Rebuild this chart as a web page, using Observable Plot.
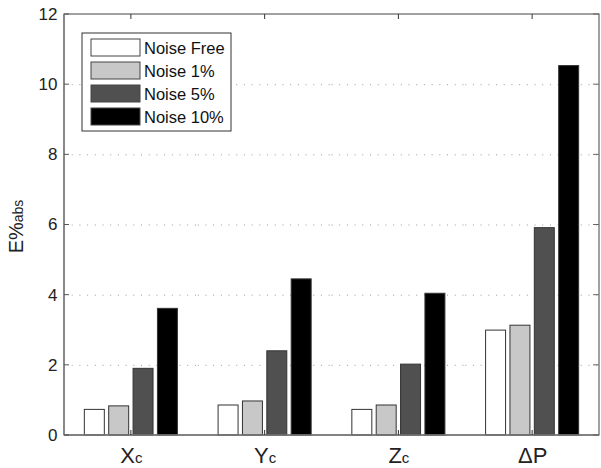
<!DOCTYPE html>
<html><head><meta charset="utf-8">
<script src="https://cdn.jsdelivr.net/npm/d3@7"></script>
<script src="https://cdn.jsdelivr.net/npm/@observablehq/plot@0.6"></script>
<style>body{margin:0;background:#fff}</style>
</head><body><div id="chart"></div>
<script>
const categories = ["Xc", "Yc", "Zc", "ΔP"];
const catMain = ["X", "Y", "Z", "ΔP"];
const catSub = ["c", "c", "c", ""];
const series = ["Noise Free", "Noise 1%", "Noise 5%", "Noise 10%"];
const noiseFree = [0.73, 0.855, 0.73, 2.99];
const noise1 = [0.83, 0.97, 0.855, 3.13];
const noise5 = [1.90, 2.40, 2.02, 5.91];
const noise10 = [3.61, 4.45, 4.04, 10.53];
const yTicks = [0, 2, 4, 6, 8, 10, 12];
const gridTicks = [2, 4, 6, 8, 10];
const colors = ["#ffffff", "#c8c8c8", "#505050", "#000000"];
const yLabelMain = "E%";
const yLabelSub = "abs";

const seriesValues = [noiseFree, noise1, noise5, noise10];
const data = categories.flatMap((c, i) => series.map((s, j) => ({cat: c, series: s, value: seriesValues[j][i]})));

const W = 601, H = 468, mL = 64, mR = 2, mT = 14, mB = 33;
const font = "'Liberation Sans', Arial, Helvetica, sans-serif";

const plot = Plot.plot({
  width: W, height: H, marginLeft: mL, marginRight: mR, marginTop: mT, marginBottom: mB,
  style: {fontFamily: font, background: "#fff", color: "#222"},
  fx: {domain: categories, padding: 0, round: false, axis: "bottom", label: null, tickSize: 0, tickPadding: 12},
  x: {domain: series, paddingInner: 0.18, paddingOuter: 0.835, round: false, axis: null},
  y: {domain: [0, 12], ticks: yTicks, tickSize: 0, tickPadding: 7, label: null},
  color: {domain: series, range: colors},
  marks: [
    Plot.ruleY(gridTicks, {stroke: "#999", strokeWidth: 1, strokeDasharray: "1,6.7"}),
    Plot.barY(data, {fx: "cat", x: "series", y: "value", fill: "series", stroke: "#333", strokeWidth: 1})
  ]
});
document.getElementById("chart").appendChild(plot);

const svg = d3.select(plot);
const fxS = plot.scale("fx");
const yS = plot.scale("y");
const fxPos = c => fxS.apply(c) + fxS.bandwidth / 2;
const yPos = v => yS.apply(v);
const x0 = mL, x1 = W - mR, y0 = mT, y1 = H - mB;

svg.selectAll('g[aria-label^="y-axis"] text').attr("font-size", 17).style("font-size", "17px");
svg.selectAll('g[aria-label^="fx-axis"] text').each(function() {
  const t = d3.select(this);
  const label = this.textContent;
  const i = categories.indexOf(label);
  t.style("font-size", "22px").attr("font-size", 22);
  if (i >= 0) {
    t.text(null);
    t.append("tspan").text(catMain[i]);
    if (catSub[i]) t.append("tspan").style("font-size", "15px").text(catSub[i]);
  }
});

const g = svg.append("g");
g.append("rect").attr("x", x0).attr("y", y0).attr("width", x1 - x0).attr("height", y1 - y0)
  .attr("fill", "none").attr("stroke", "#444").attr("stroke-width", 1);
g.append("line").attr("x1", x0).attr("x2", x0).attr("y1", y0).attr("y2", y1).attr("stroke", "#888").attr("stroke-width", 2);
g.append("line").attr("x1", x0).attr("x2", x1).attr("y1", y1).attr("y2", y1).attr("stroke", "#777").attr("stroke-width", 1.5);
yTicks.forEach(v => {
  const yy = yPos(v);
  g.append("line").attr("x1", x0).attr("x2", x0 + 5).attr("y1", yy).attr("y2", yy).attr("stroke", "#555");
  g.append("line").attr("x1", x1 - 6).attr("x2", x1).attr("y1", yy).attr("y2", yy).attr("stroke", "#666");
});
categories.forEach(c => {
  const xx = fxPos(c);
  g.append("line").attr("x1", xx).attr("x2", xx).attr("y1", y0).attr("y2", y0 + 5).attr("stroke", "#333");
  g.append("line").attr("x1", xx).attr("x2", xx).attr("y1", y1 - 5).attr("y2", y1).attr("stroke", "#333");
});

const yl = g.append("text").attr("transform", `translate(23,${(y0 + y1) / 2 + 2}) rotate(-90)`)
  .attr("text-anchor", "middle").style("font-family", font).style("font-size", "20px").attr("fill", "#222");
yl.append("tspan").text(yLabelMain);
yl.append("tspan").style("font-size", "14px").text(yLabelSub);

const lx = x0 + 18, ly = y0 + 19;
const lg = g.append("g");
lg.append("rect").attr("x", lx).attr("y", ly).attr("width", 149).attr("height", 98)
  .attr("fill", "#fff").attr("stroke", "#333").attr("stroke-width", 1);
series.forEach((s, i) => {
  const ry = ly + 6 + i * 23;
  lg.append("rect").attr("x", lx + 9).attr("y", ry).attr("width", 49).attr("height", 17)
    .attr("fill", colors[i]).attr("stroke", "#444").attr("stroke-width", 1);
  lg.append("text").attr("x", lx + 62).attr("y", ry + 14.5).attr("text-anchor", "start").text(s)
    .style("font-family", font).style("font-size", "16.5px").attr("fill", "#111");
});
</script>
</body></html>
